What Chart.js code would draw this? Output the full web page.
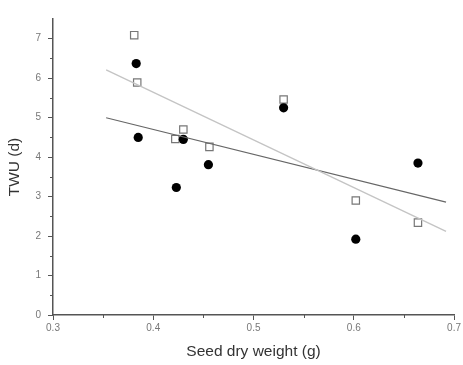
<!DOCTYPE html>
<html>
<head>
<meta charset="utf-8">
<script src="https://cdn.jsdelivr.net/npm/chart.js@4/dist/chart.umd.min.js"></script>
<style>
  html, body { margin: 0; padding: 0; background: #fff; }
  #wrap { width: 463px; height: 365px; }
</style>
</head>
<body>
<div id="wrap"><canvas id="twuChart"></canvas></div>
<script>
// seed dry weight (g) vs TWU (d)
const squareX = [0.381, 0.384, 0.430, 0.422, 0.456, 0.530, 0.602, 0.664];
const squareY = [7.09, 5.89, 4.70, 4.46, 4.26, 5.46, 2.90, 2.34];
const circleX = [0.383, 0.385, 0.430, 0.423, 0.455, 0.530, 0.664, 0.602];
const circleY = [6.37, 4.50, 4.45, 3.23, 3.81, 5.25, 3.85, 1.92];

// fitted lines, end points
const fitX = [0.353, 0.692];
const circleFitY = [5.00, 2.86];
const squareFitY = [6.21, 2.12];

const xTicks = [0.3, 0.4, 0.5, 0.6, 0.7];
const yTicks = [0, 1, 2, 3, 4, 5, 6, 7];

const toPoints = (xs, ys) => xs.map((x, i) => ({ x: x, y: ys[i] }));

// short ticks half way between the labelled ones
const minorTicks = {
    id: 'minorTicks',
    afterDraw(chart) {
        const ctx = chart.ctx;
        const xs = chart.scales.x, ys = chart.scales.y;
        ctx.save();
        ctx.strokeStyle = '#555';
        ctx.lineWidth = 1;
        ctx.beginPath();
        for (let v = 0.35; v < 0.7; v += 0.1) {
            const px = Math.round(xs.getPixelForValue(v)) + 0.5;
            ctx.moveTo(px, ys.bottom);
            ctx.lineTo(px, ys.bottom + 3);
        }
        for (let v = 0.5; v < 7.5; v += 1) {
            const py = Math.round(ys.getPixelForValue(v)) + 0.5;
            ctx.moveTo(xs.left, py);
            ctx.lineTo(xs.left - 3, py);
        }
        ctx.stroke();
        ctx.restore();
    }
};

new Chart(document.getElementById('twuChart'), {
    type: 'scatter',
    data: {
        datasets: [
            {
                label: 'fit squares',
                type: 'line',
                data: toPoints(fitX, squareFitY),
                borderColor: '#c4c4c4',
                borderWidth: 1.3,
                pointRadius: 0,
                fill: false
            },
            {
                label: 'fit circles',
                type: 'line',
                data: toPoints(fitX, circleFitY),
                borderColor: '#666',
                borderWidth: 1.1,
                pointRadius: 0,
                fill: false
            },
            {
                label: 'circles',
                data: toPoints(circleX, circleY),
                pointStyle: 'circle',
                pointRadius: 4.6,
                backgroundColor: '#000',
                borderColor: '#000',
                borderWidth: 0
            },
            {
                label: 'squares',
                data: toPoints(squareX, squareY),
                pointStyle: 'rect',
                pointRadius: 5.2,
                backgroundColor: 'rgba(255,255,255,0)',
                borderColor: '#777',
                borderWidth: 1.2
            }
        ]
    },
    options: {
        responsive: true,
        maintainAspectRatio: false,
        animation: false,
        layout: { padding: { top: 19, right: 7, left: 0, bottom: 0 } },
        plugins: { legend: { display: false }, tooltip: { enabled: false } },
        scales: {
            x: {
                type: 'linear',
                min: 0.3,
                max: 0.7,
                afterBuildTicks: s => { s.ticks = xTicks.map(v => ({ value: v })); },
                afterFit: s => { s.height = 50; },
                ticks: {
                    color: '#777',
                    font: { family: 'Liberation Sans, Arial', size: 10 },
                    padding: 2,
                    maxRotation: 0,
                    callback: v => String(Math.round(v * 10) / 10)
                },
                grid: { drawOnChartArea: false, drawTicks: true, tickLength: 5, color: '#555' },
                border: { color: '#555', width: 1.5 },
                title: {
                    display: true,
                    text: 'Seed dry weight (g)',
                    color: '#333',
                    font: { family: 'Liberation Sans, Arial', size: 15.5 },
                    padding: { top: 11 }
                }
            },
            y: {
                type: 'linear',
                min: 0,
                max: 7.5,
                afterBuildTicks: s => { s.ticks = yTicks.map(v => ({ value: v })); },
                afterFit: s => { s.width = 53; },
                ticks: {
                    color: '#777',
                    font: { family: 'Liberation Sans, Arial', size: 10 },
                    padding: 7
                },
                grid: { drawOnChartArea: false, drawTicks: true, tickLength: 5, color: '#555' },
                border: { color: '#555', width: 1.5 },
                title: {
                    display: true,
                    text: 'TWU (d)',
                    color: '#333',
                    font: { family: 'Liberation Sans, Arial', size: 15.5 },
                    padding: { bottom: 0, top: 5 }
                }
            }
        }
    },
    plugins: [minorTicks]
});
</script>
</body>
</html>
